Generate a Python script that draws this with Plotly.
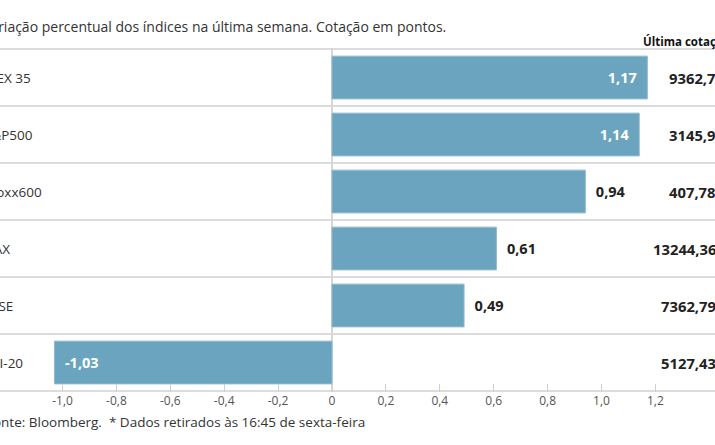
import plotly.graph_objects as go

indices = ["IBEX 35", "S&P500", "Stoxx600", "DAX", "FTSE", "PSI-20"]
variacao = [1.17, 1.14, 0.94, 0.61, 0.49, -1.03]
cotacao = ["9362,70*", "3145,91*", "407,78", "13244,36", "7362,79", "5127,43"]
inside = [True, True, False, False, False, True]
tick_vals = [-1.0, -0.8, -0.6, -0.4, -0.2, 0, 0.2, 0.4, 0.6, 0.8, 1.0, 1.2]
tick_text = ["-1,0", "-0,8", "-0,6", "-0,4", "-0,2", "0", "0,2", "0,4", "0,6", "0,8", "1,0", "1,2"]

title = "Variação percentual dos índices na última semana. Cotação em pontos."
header = "Última cotação"
footer = "Fonte: Bloomberg.  * Dados retirados às 16:45 de sexta-feira"

W, H = 715, 445
TOP, BOTTOM = 48, 392
FONT = "Open Sans"
NB = "\u00a0"

def fmt(v):
    return f"{v:.2f}".replace(".", ",")

texts, positions = [], []
for v, ins in zip(variacao, inside):
    s = fmt(v)
    if ins:
        texts.append(s + NB * 2 if v >= 0 else NB * 2 + s)
        positions.append("inside")
    else:
        texts.append(NB * 2 + s)
        positions.append("outside")

fig = go.Figure()
fig.add_trace(go.Bar(
    y=indices, x=variacao, orientation="h",
    marker=dict(color="#6aa4be", line=dict(color="#8dbad0", width=1)),
    text=texts, textposition=positions, insidetextanchor="end",
    insidetextfont=dict(color="white", size=14.5, family=FONT, weight="bold"),
    outsidetextfont=dict(color="#222", size=14.5, family=FONT, weight="bold"),
    cliponaxis=False, hoverinfo="skip",
))

x0px, scale = 332, 269.5
xr = [(0 - x0px) / scale, (W - x0px) / scale]

shapes = []
for i in range(len(indices) + 1):
    shapes.append(dict(type="line", xref="paper", yref="y", x0=0, x1=1,
                       y0=i - 0.5, y1=i - 0.5, line=dict(color="#dcdcdc", width=2),
                       layer="below"))

annotations = []
for name, c in zip(indices, cotacao):
    annotations.append(dict(text=name, xref="paper", yref="y", x=-18 / W, y=name,
                            xanchor="left", yanchor="middle", showarrow=False,
                            font=dict(size=13.5, color="#333", family=FONT)))
    right_px = 718 + (16 if c.endswith("*") else 0)
    annotations.append(dict(text=c, xref="paper", yref="y", x=right_px / W, y=name,
                            xanchor="right", yanchor="middle", showarrow=False,
                            font=dict(size=14.8, color="#222", family=FONT, weight="bold")))

ph = BOTTOM - TOP
annotations.append(dict(text=title, xref="paper", yref="paper", x=-20 / W,
                        y=(BOTTOM - 26) / ph, xanchor="left", yanchor="middle",
                        showarrow=False, font=dict(size=14, color="#333", family=FONT)))
annotations.append(dict(text=header, xref="paper", yref="paper", x=641 / W,
                        y=(BOTTOM - 42) / ph, xanchor="left", yanchor="middle",
                        showarrow=False, font=dict(size=11.5, color="#111", family=FONT, weight="bold")))
annotations.append(dict(text=footer, xref="paper", yref="paper", x=-16 / W,
                        y=(BOTTOM - 422) / ph, xanchor="left", yanchor="middle",
                        showarrow=False, font=dict(size=13.5, color="#333", family=FONT)))

fig.update_layout(
    width=W, height=H,
    margin=dict(l=0, r=0, t=TOP, b=H - BOTTOM, pad=0),
    paper_bgcolor="white", plot_bgcolor="white",
    bargap=0.25, showlegend=False,
    shapes=shapes, annotations=annotations,
    xaxis=dict(range=xr, tickvals=tick_vals, ticktext=tick_text,
               ticks="inside", ticklen=8, tickcolor="#cfcfcf", tickwidth=1,
               showgrid=False, zeroline=True, zerolinecolor="#d6d6d6", zerolinewidth=2,
               showline=False, tickfont=dict(size=12, color="#555", family=FONT),
               fixedrange=True),
    yaxis=dict(autorange="reversed", showticklabels=False, showgrid=False,
               zeroline=False, showline=False, ticks="", fixedrange=True),
)

fig.write_html("out.html", config={"displayModeBar": False},
               post_script="document.body.style.margin='0px';document.body.style.overflow='hidden';")
